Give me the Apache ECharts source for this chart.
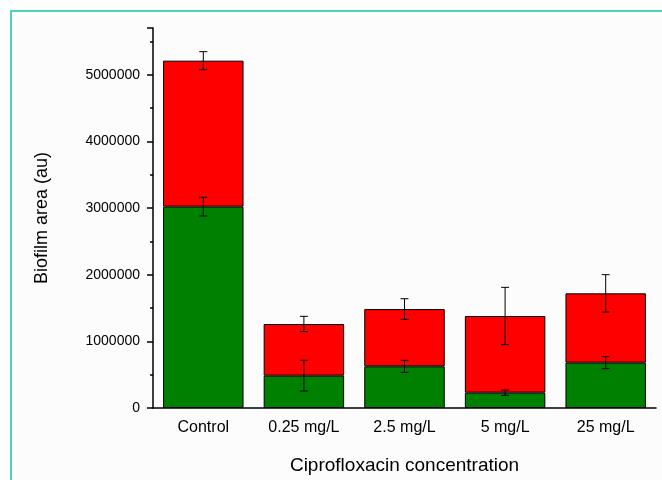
<!DOCTYPE html>
<html><head><meta charset="UTF-8">
<title>Biofilm area</title>
<script src="https://cdn.jsdelivr.net/npm/echarts@6/dist/echarts.min.js"></script>
<style>html,body{margin:0;padding:0;background:#fff;}</style>
</head>
<body>
<div id="g1" style="width:662px;height:480px;"></div>
<script type="text/javascript">
// data
var categories = ['Control', '0.25 mg/L', '2.5 mg/L', '5 mg/L', '25 mg/L'];
var greenVals = [3020000, 485000, 625000, 230000, 680000];
var redVals = [2190000, 775000, 859000, 1150000, 1040000];
var greenErr = [140000, 230000, 90000, 40000, 90000];
var totalErr = [135000, 115000, 155000, 430000, 280000];

// error bar data: [category index, centre value, error]
var greenErrData = [], totalErrData = [];
for (var i = 0; i < categories.length; i++) {
    greenErrData.push([i, greenVals[i], greenErr[i]]);
    totalErrData.push([i, greenVals[i] + redVals[i], totalErr[i]]);
}

function errorBar(params, api) {
    var x = api.value(0), c = api.value(1), e = api.value(2);
    var hi = api.coord([x, c + e]);
    var lo = api.coord([x, c - e]);
    var w = 4;
    var st = {stroke: '#000', lineWidth: 1};
    return {
        type: 'group',
        children: [
            {type: 'line', shape: {x1: hi[0], y1: hi[1], x2: lo[0], y2: lo[1]}, style: st},
            {type: 'line', shape: {x1: hi[0] - w, y1: hi[1], x2: hi[0] + w, y2: hi[1]}, style: st},
            {type: 'line', shape: {x1: lo[0] - w, y1: lo[1], x2: lo[0] + w, y2: lo[1]}, style: st}
        ]
    };
}

var font = 'Liberation Sans, Arial, sans-serif';

var option = {
    backgroundColor: '#fff',
    animation: false,
    graphic: [{
        type: 'rect', left: 10, top: 10, z: -10,
        shape: {width: 700, height: 520},
        style: {fill: '#fcfcfc', stroke: '#4fd1b8', lineWidth: 2}
    }],
    grid: {left: 153, top: 28, right: 6, bottom: 72},
    xAxis: [{
        type: 'category',
        data: categories,
        axisLine: {lineStyle: {color: '#000', width: 1.5}},
        axisTick: {alignWithLabel: true, length: 6, lineStyle: {color: '#000', width: 1.5}},
        axisLabel: {color: '#000', fontSize: 16, fontFamily: font, margin: 12},
        name: 'Ciprofloxacin concentration',
        nameLocation: 'middle',
        nameGap: 48,
        nameTextStyle: {color: '#000', fontSize: 19, fontFamily: font}
    }, {
        type: 'category',
        data: categories,
        position: 'bottom',
        axisLine: {show: false},
        axisTick: {length: 3, lineStyle: {color: '#000', width: 1.5}},
        axisLabel: {show: false}
    }],
    yAxis: {
        type: 'value',
        min: 0,
        max: 5700000,
        interval: 1000000,
        splitLine: {show: false},
        axisLine: {show: true, lineStyle: {color: '#000', width: 1.5}},
        axisTick: {show: true, length: 6, lineStyle: {color: '#000', width: 1.5}},
        minorTick: {show: true, splitNumber: 2, length: 3, lineStyle: {color: '#000', width: 1.5}},
        axisLabel: {
            color: '#000', fontSize: 14, fontFamily: font, margin: 13,
            showMaxLabel: false,
            formatter: function (v) { return v % 1000000 === 0 ? String(v) : ''; }
        },
        name: 'Biofilm area (au)',
        nameLocation: 'middle',
        nameGap: 102,
        nameTextStyle: {color: '#000', fontSize: 18, fontFamily: font}
    },
    series: [
        {name: 'green', type: 'bar', stack: 'a', data: greenVals, barWidth: '80%',
         itemStyle: {color: '#008000', borderColor: '#000', borderWidth: 1}},
        {name: 'red', type: 'bar', stack: 'a', data: redVals, barWidth: '80%',
         itemStyle: {color: '#ff0000', borderColor: '#000', borderWidth: 1}},
        {type: 'custom', renderItem: errorBar, data: greenErrData, z: 10},
        {type: 'custom', renderItem: errorBar, data: totalErrData, z: 10}
    ]
};

var myChart = echarts.init(document.getElementById('g1'));
myChart.setOption(option);
</script>
</body></html>
